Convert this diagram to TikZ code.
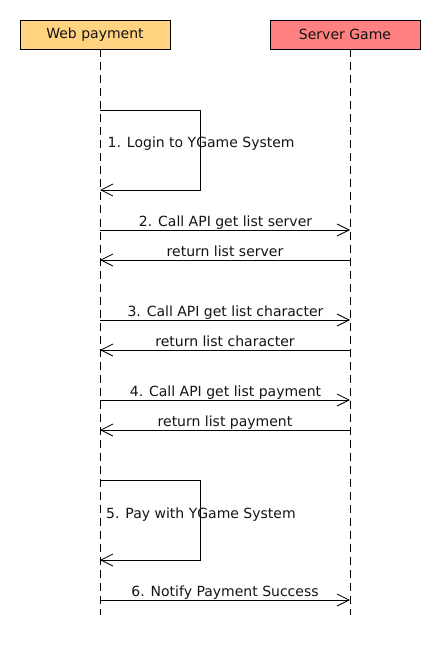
\documentclass[tikz,border=0pt]{standalone}
\usepackage{fontspec}
\setmainfont{DejaVu Sans}
\usetikzlibrary{arrows.meta}
\definecolor{webfill}{RGB}{255,211,127}
\definecolor{srvfill}{RGB}{255,128,128}
\definecolor{ink}{RGB}{20,20,20}
\tikzset{
  actor/.style={draw=black, line width=0.9pt, minimum width=150pt, minimum height=29pt, inner sep=0pt, text=ink, font=\fontsize{14}{16}\selectfont},
  lifeline/.style={draw=black, line width=0.9pt, dash pattern=on 8pt off 5pt},
  msg/.style={draw=black, line width=0.9pt, -{Straight Barb[length=12pt,width=12pt,line width=0.8pt]}},
  lbl/.style={inner sep=0pt, anchor=base, text=ink, font=\fontsize{14}{16}\selectfont},
  slbl/.style={inner sep=0pt, anchor=base west, text=ink, font=\fontsize{14}{16}\selectfont}
}
\begin{document}
\begin{tikzpicture}[x=1pt,y=-1pt]
\useasboundingbox (0,0) rectangle (440,660);
\fill[white] (0,0) rectangle (440,660);
% actors
\node[actor, fill=webfill] (web) at (95,34.5) {Web payment};
\node[actor, fill=srvfill] (srv) at (345,34.5) {Server Game};
% lifelines
\coordinate (wEnd) at (100,615);
\coordinate (sEnd) at (350,615);
\coordinate (wTop) at (100,49.5);
\coordinate (sTop) at (350,49.5);
\draw[lifeline] (wTop) -- (wEnd);
\draw[lifeline] (sTop) -- (sEnd);
% message anchor points
\foreach \n/\y in {m1a/110,m1b/190,m2/230,r2/260,m3/320,r3/350,m4/400,r4/430,m5a/480,m5b/560,m6/600}{
  \coordinate (w\n) at (100,\y);
  \coordinate (s\n) at (350,\y);
  \coordinate (x\n) at (200,\y);
}
% 1. self message
\draw[msg] (wm1a) -- (xm1a) -- (xm1b) -- (wm1b);
\node[slbl] (l1) at (107.5,148) {1. Login to YGame System};
% 2
\draw[msg] (wm2) -- (sm2);
\node[lbl] (l2) at (225.5,226.5) {2. Call API get list server};
\draw[msg] (sr2) -- (wr2);
\node[lbl] (lr2) at (225,256.5) {return list server};
% 3
\draw[msg] (wm3) -- (sm3);
\node[lbl] (l3) at (225.5,316.5) {3. Call API get list character};
\draw[msg] (sr3) -- (wr3);
\node[lbl] (lr3) at (225,346.5) {return list character};
% 4
\draw[msg] (wm4) -- (sm4);
\node[lbl] (l4) at (225.5,396.5) {4. Call API get list payment};
\draw[msg] (sr4) -- (wr4);
\node[lbl] (lr4) at (225,426.5) {return list payment};
% 5. self message
\draw[msg] (wm5a) -- (xm5a) -- (xm5b) -- (wm5b);
\node[slbl] (l5) at (106,518) {5. Pay with YGame System};
% 6
\draw[msg] (wm6) -- (sm6);
\node[lbl] (l6) at (225,596.5) {6. Notify Payment Success};
\end{tikzpicture}
\end{document}
